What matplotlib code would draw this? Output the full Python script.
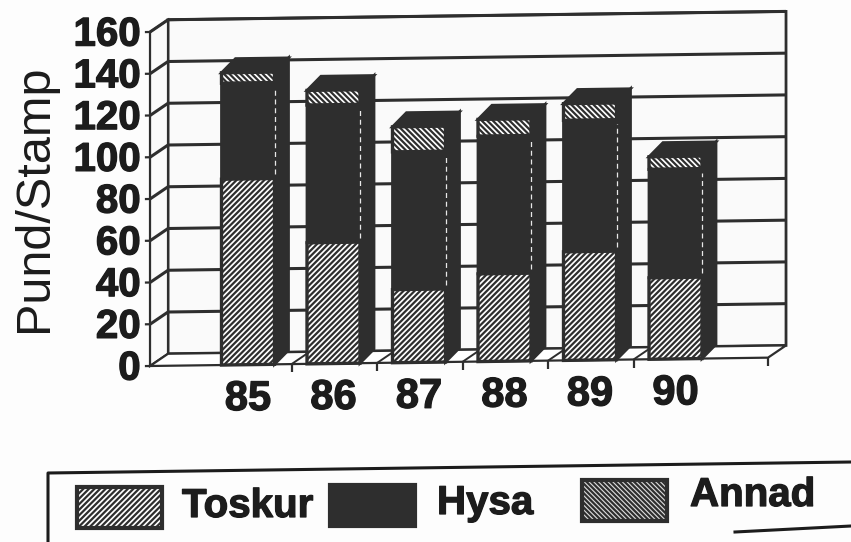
import matplotlib
matplotlib.use('Agg')
import matplotlib.pyplot as plt
import matplotlib.patheffects as pe
from matplotlib.patches import Polygon, Rectangle
from matplotlib.transforms import Affine2D

years = ['85', '86', '87', '88', '89', '90']
toskur = [89, 58, 35, 42, 52, 39]
hysa = [46, 66, 66, 66, 63, 52]
annad = [5, 7, 12, 8, 8, 6]
y_ticks = [0, 20, 40, 60, 80, 100, 120, 140, 160]
legend_names = ['Toskur', 'Hysa', 'Annad']

DARK = '#2e2e2e'
INK = '#1c1c1c'
PX_X = 85.5      # pixels per category
PX_Y = 2.0875    # pixels per unit
W, H = 851, 542
X0 = 248         # pixel of first bar centre
Y0 = 366         # pixel of value zero

plt.rcParams['font.family'] = ['Liberation Sans', 'DejaVu Sans']
plt.rcParams['hatch.linewidth'] = 1.6

fig = plt.figure(figsize=(8.51, 5.42), dpi=100, facecolor='#fdfdfd')
ax = fig.add_axes([0, 0, 1, 1])
ax.set_xlim(-X0 / PX_X, (W - X0) / PX_X)
ax.set_ylim((Y0 - H) / PX_Y, Y0 / PX_Y)
ax.axis('off')

# scan is a little crooked, so everything rises to the right
x_axis = -1.146
slope = 0.0135 * PX_X / PX_Y
trans = Affine2D.from_values(1, slope, 0, 1, 0, -slope * x_axis) + ax.transData
# legend is laid out in image pixels
px = Affine2D().scale(1, -1).translate(0, H)
heavy = [pe.withStroke(linewidth=0.9, foreground=INK)]

wall_dx, wall_dy = 18 / PX_X, 12 / PX_Y
x_right = x_axis + 618 / PX_X
top = y_ticks[-1]


def poly(pts, fc, ec=DARK, lw=2.0, z=1, **kw):
    ax.add_patch(Polygon(pts, closed=True, fc=fc, ec=ec, lw=lw, zorder=z,
                         transform=trans, **kw))


def line(xs, ys, lw=2.2, z=2, color=DARK):
    ax.plot(xs, ys, color=color, lw=lw, zorder=z, transform=trans,
            solid_capstyle='butt')


# walls and floor
poly([(x_axis + wall_dx, wall_dy), (x_right + wall_dx, wall_dy),
      (x_right + wall_dx, top + wall_dy), (x_axis + wall_dx, top + wall_dy)],
     '#fafafa')
poly([(x_axis, 0), (x_axis + wall_dx, wall_dy),
      (x_axis + wall_dx, top + wall_dy), (x_axis, top)], '#fafafa', lw=1.6)
poly([(x_axis, 0), (x_right, 0), (x_right + wall_dx, wall_dy),
      (x_axis + wall_dx, wall_dy)], 'white', lw=1.6)

for t in y_ticks[1:]:
    line([x_axis + wall_dx, x_right + wall_dx], [t + wall_dy, t + wall_dy])
    line([x_axis, x_axis + wall_dx], [t, t + wall_dy])
for t in y_ticks:
    line([x_axis - 0.06, x_axis], [t, t], lw=1.6)
    ax.text(x_axis - 0.11, t - 1.2, str(t), ha='right', va='center', fontsize=29,
            fontweight='bold', color=INK, transform=trans, zorder=6,
            path_effects=heavy)

# floor ticks and their lines back to the wall
bar_w = 53 / PX_X
for i in range(1, len(years)):
    xt = i - 0.5 + 0.01
    line([xt, xt], [0, -4], lw=1.6)
    line([xt, xt + wall_dx], [0, wall_dy], lw=1.4, z=2)
line([x_right, x_right], [0, -4], lw=1.6)

# bars, front to side to top
bar_dx, bar_dy = 14 / PX_X, 14 / PX_Y
for i, year in enumerate(years):
    left = i - bar_w / 2
    right = i + bar_w / 2
    t1 = toskur[i]
    t2 = t1 + hysa[i]
    t3 = t2 + annad[i]
    z = 3 + i * 0.1
    poly([(right, 0), (right + bar_dx, bar_dy), (right + bar_dx, t3 + bar_dy),
          (right, t3)], DARK, z=z)
    poly([(left, t3), (left + bar_dx, t3 + bar_dy),
          (right + bar_dx, t3 + bar_dy), (right, t3)], DARK, z=z)
    poly([(left, t1), (right, t1), (right, t2), (left, t2)], DARK, z=z)
    poly([(left, 0), (right, 0), (right, t1), (left, t1)], 'white', z=z,
         hatch='//////', lw=2.4)
    poly([(left, t2), (right, t2), (right, t3), (left, t3)], 'white', z=z,
         hatch='\\\\\\\\\\\\', lw=2.4)
    ax.plot([right, right], [t1 + 2, t2 - 2], color='#e8e8e8', lw=0.9,
            ls=(0, (4, 3)), zorder=z + 0.05, transform=trans)
    ax.text(i, -16.5, year, ha='center', va='center', fontsize=30,
            fontweight='bold', color=INK, transform=trans, zorder=6,
            path_effects=heavy)

ax.text(35, 198, 'Pund/Stamp', rotation=90, ha='center', va='center',
        fontsize=35, color=INK, transform=px)

# legend box
ax.plot([48, 48, 851], [542, 473, 462], color=INK, lw=2.2, transform=px)
ax.plot([735, 851], [532, 526], color=INK, lw=2.2, transform=px)

patch_x = [77, 330, 582]
patch_y = [487, 485, 480]
text_x = [182, 437, 690]
text_y = [506, 503, 495]
styles = [('white', '//////'), (DARK, None), ('#dddddd', '\\\\\\\\\\\\\\')]
for name, xp, yp, xt, yt, (fc, hatch) in zip(legend_names, patch_x, patch_y,
                                             text_x, text_y, styles):
    ax.add_patch(Rectangle((xp, yp), 85, 41, fc=fc, ec=DARK, lw=3.0,
                           hatch=hatch, transform=px))
    ax.text(xt, yt, name, ha='left', va='center', fontsize=29,
            fontweight='bold', color=INK, transform=px, path_effects=heavy)

fig.savefig('out.png', dpi=100, facecolor=fig.get_facecolor())
